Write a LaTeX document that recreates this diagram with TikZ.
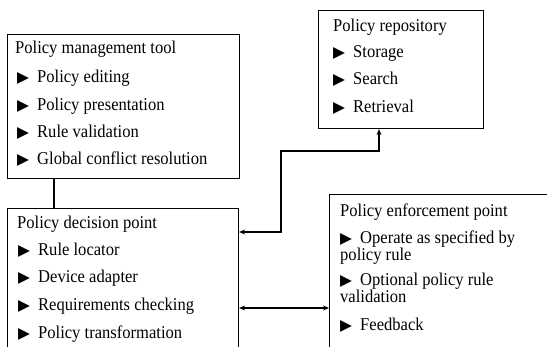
\documentclass[tikz,border=0pt]{standalone}
\usepackage{fontspec}
\setmainfont[FakeStretch=0.92]{Liberation Serif}
\newfontfamily\symfont{DejaVu Sans}
\usetikzlibrary{arrows.meta}
% bullet glyph in a box of given width
\newcommand\bul[1][20pt]{\makebox[#1][l]{\symfont\fontsize{15.5}{15.5}\selectfont ▶}}

\begin{document}
\begin{tikzpicture}[x=1pt,y=-1pt,
  box/.style={draw, line width=1.1pt, anchor=north west, inner sep=0pt},
  txt/.style={anchor=base west, inner sep=0pt, align=left,
    font=\fontsize{18}{14}\selectfont},
  link/.style={line width=1.4pt},
  tip/.style={{Stealth[length=6pt,width=5pt]}-{Stealth[length=6pt,width=5pt]}}]
\useasboundingbox (0,0) rectangle (547,347);

% boxes
\node[box, minimum width=232pt, minimum height=144pt] (pmt) at (7,34) {};
\node[box, minimum width=231pt, minimum height=170pt] (pdp) at (7,208) {};
\node[box, minimum width=165pt, minimum height=118pt] (repo) at (318,10) {};
\node[box, minimum width=240pt, minimum height=170pt] (pep) at (329,194) {};

% policy management tool
\node[txt] (pmt-t) at (15,54) {Policy management tool};
\node[txt] (pmt-a) at (17,83) {\bul Policy editing};
\node[txt] (pmt-b) at (17,111) {\bul Policy presentation};
\node[txt] (pmt-c) at (17,138) {\bul Rule validation};
\node[txt] (pmt-d) at (17,165) {\bul Global conflict resolution};

% policy decision point
\node[txt] (pdp-t) at (17,229) {Policy decision point};
\node[txt] (pdp-a) at (18,256) {\bul Rule locator};
\node[txt] (pdp-b) at (18,283) {\bul Device adapter};
\node[txt] (pdp-c) at (18,311) {\bul Requirements checking};
\node[txt] (pdp-d) at (18,339) {\bul Policy transformation};

% policy repository
\node[txt] (repo-t) at (333,32) {Policy repository};
\node[txt] (repo-a) at (333,58) {\bul Storage};
\node[txt] (repo-b) at (333,85) {\bul Search};
\node[txt] (repo-c) at (333,113) {\bul Retrieval};

% policy enforcement point (two-line items sit on their last baseline)
\node[txt] (pep-t) at (340,217) {Policy enforcement point};
\node[txt] (pep-a) at (340,261) {\bul Operate as specified by\\policy rule};
\node[txt] (pep-b) at (340,303) {\bul Optional policy rule\\validation};
\node[txt] (pep-c) at (340,331) {\bul Feedback};

% connectors
\coordinate (bend) at (281,151);
\draw[link] ([xshift=47pt]pmt.south west) -- ([xshift=47pt]pdp.north west);
\draw[link, tip] ([yshift=-24pt]pdp.north east) -| (bend) -| ([xshift=61pt]repo.south west);
\draw[link, tip] ([yshift=-100pt]pdp.north east) -- ([yshift=-114pt]pep.north west);
\end{tikzpicture}
\end{document}
